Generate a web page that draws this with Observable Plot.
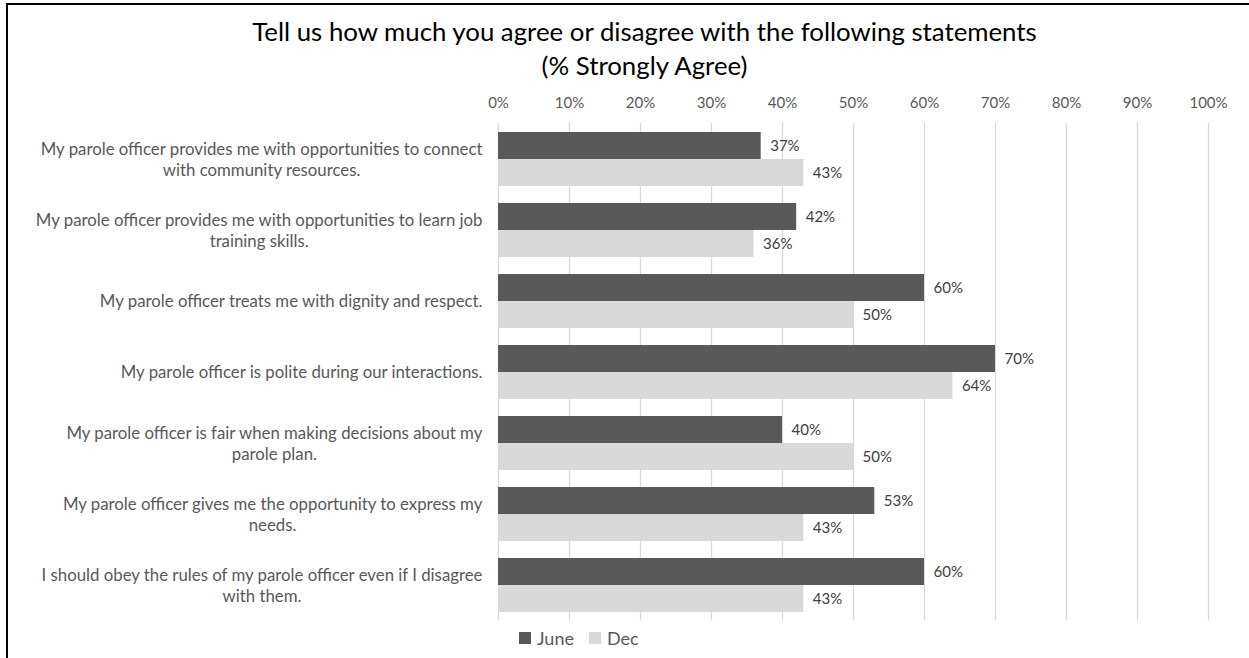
<!DOCTYPE html>
<html>
<head>
<meta charset="utf-8">
<script src="https://cdn.jsdelivr.net/npm/d3@7"></script>
<script src="https://cdn.jsdelivr.net/npm/@observablehq/plot@0.6"></script>
<style>
  body { margin: 0; background: #fff; font-family: Lato, "Open Sans", sans-serif; }
  #frame { position: relative; width: 1249px; height: 658px; overflow: hidden; background: #fff; }
  #edge { position: absolute; left: 6px; top: 3px; right: -10px; bottom: -10px;
          border-left: 2px solid #000; border-top: 2px solid #000; pointer-events: none; }
  #title { position: absolute; left: 40px; width: 1209px; top: 14px; text-align: center;
           font-size: 25.8px; line-height: 34px; color: #000; }
  #chart { position: absolute; left: 0; top: 85px; }
  #legend { position: absolute; left: 519px; top: 627px; }
  #legend .key-swatches { font-family: Lato, sans-serif; font-size: 18px; color: #595959;
                          margin: 0; min-height: 0; }
  #legend .key-swatch { margin-right: 15px; }
  #legend .key-swatch > svg { margin-right: 6px; }
</style>
</head>
<body>
<div id="frame">
  <div id="title">Tell us how much you agree or disagree with the following statements<br>(% Strongly Agree)</div>
  <div id="chart"></div>
  <div id="legend"></div>
  <div id="edge"></div>
</div>
<script>
// Survey statements, in display order (top to bottom)
const statements = [
  "My parole officer provides me with opportunities to connect with community resources.",
  "My parole officer provides me with opportunities to learn job training skills.",
  "My parole officer treats me with dignity and respect.",
  "My parole officer is polite during our interactions.",
  "My parole officer is fair when making decisions about my parole plan.",
  "My parole officer gives me the opportunity to express my needs.",
  "I should obey the rules of my parole officer even if I disagree with them."
];

// Share answering "Strongly Agree", in percent
const june = [37, 42, 60, 70, 40, 53, 60];
const dec  = [43, 36, 50, 64, 50, 43, 43];

const seriesNames = ["June", "Dec"];
const seriesColors = ["#595959", "#d9d9d9"];
const xTicks = [0, 10, 20, 30, 40, 50, 60, 70, 80, 90, 100];

const rows = statements.flatMap((s, i) => [
  {statement: s, series: "June", value: june[i]},
  {statement: s, series: "Dec", value: dec[i]}
]);

// Greedy word wrap of the statement labels, measured with the label font
const labelSize = 16.8;
const ctx = document.createElement("canvas").getContext("2d");
ctx.font = `${labelSize}px Lato`;
function wrap(text, maxWidth = 455) {
  const words = text.split(" ");
  const lines = [];
  let line = "";
  for (const w of words) {
    const test = line ? line + " " + w : w;
    if (line && ctx.measureText(test).width > maxWidth) { lines.push(line); line = w; }
    else line = test;
  }
  if (line) lines.push(line);
  return lines.join("\n");
}

const chart = Plot.plot({
  width: 1249,
  height: 545,
  marginTop: 38,
  marginBottom: 10,
  marginLeft: 498,
  marginRight: 41,
  style: {fontFamily: "Lato, sans-serif", fontSize: "15px", background: "transparent"},
  x: {domain: [0, 100], axis: null},
  y: {domain: seriesNames, paddingInner: 0, paddingOuter: 0.268, axis: null},
  fy: {domain: statements, padding: 0, axis: null},
  color: {domain: seriesNames, range: seriesColors},
  marks: [
    Plot.gridX(xTicks, {stroke: "#d9d9d9", strokeOpacity: 1, strokeWidth: 1.3}),
    Plot.axisX({anchor: "top", ticks: xTicks, tickSize: 0, tickPadding: 16,
                tickFormat: d => d + "%", fill: "#595959", fontSize: 15, label: null}),
    Plot.axisFy({anchor: "left", tickSize: 0, tickPadding: 16, textAnchor: "middle",
                 lineHeight: 1.2, tickFormat: d => wrap(d), fill: "#595959",
                 fontSize: labelSize, label: null}),
    Plot.barX(rows, {x: "value", y: "series", fy: "statement", fill: "series"}),
    Plot.text(rows, {x: "value", y: "series", fy: "statement", text: d => d.value + "%",
                     textAnchor: "start", dx: 9, fill: "#404040", fontSize: 15})
  ]
});
document.getElementById("chart").append(chart);

// Centre each wrapped label's lines within a block whose right edge sits by the axis
chart.querySelectorAll('g[aria-label="fy-axis tick label"] text').forEach(t => {
  const w = t.getBBox().width;
  t.setAttribute("transform", (t.getAttribute("transform") || "") + ` translate(${-w / 2},0)`);
});

const legend = Plot.legend({
  color: {domain: seriesNames, range: seriesColors},
  swatchSize: 12,
  className: "key"
});
document.getElementById("legend").append(legend);
</script>
</body>
</html>
